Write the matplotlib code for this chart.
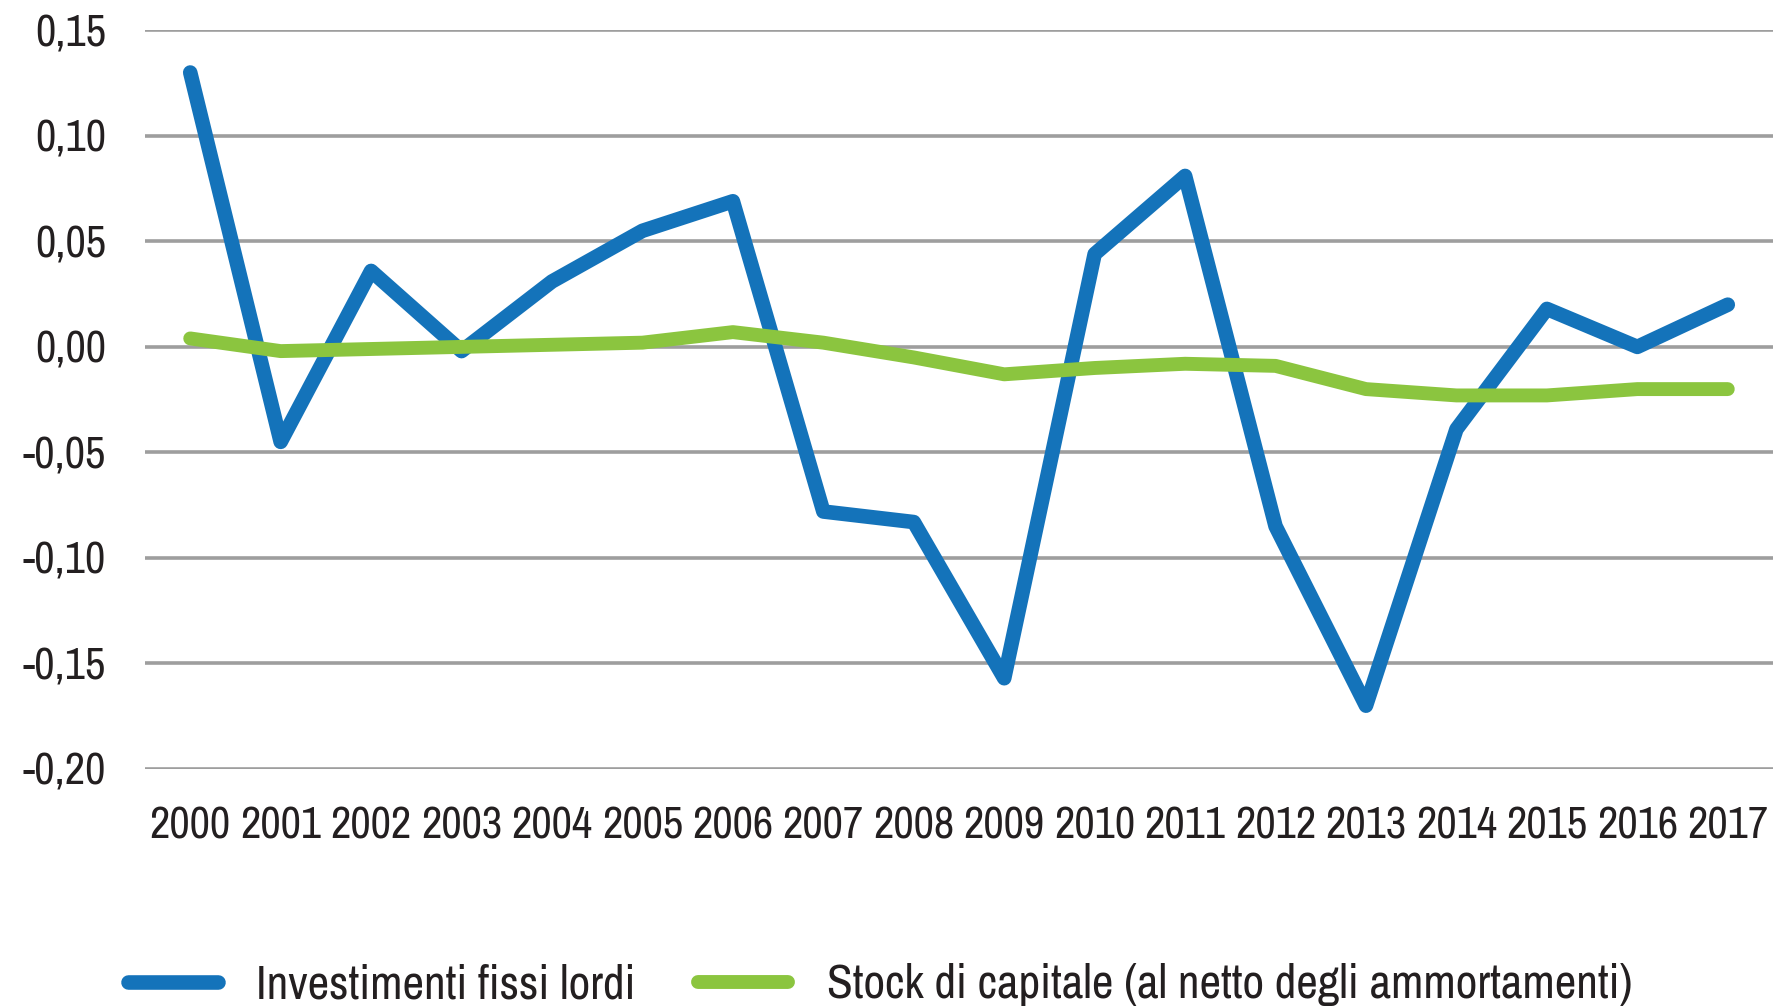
import matplotlib
matplotlib.use("Agg")
import matplotlib.pyplot as plt
from matplotlib import font_manager
from matplotlib.ticker import FuncFormatter, FixedLocator

years = ["2000", "2001", "2002", "2003", "2004", "2005", "2006", "2007", "2008",
         "2009", "2010", "2011", "2012", "2013", "2014", "2015", "2016", "2017"]
investimenti = [0.130, -0.045, 0.036, -0.002, 0.031, 0.055, 0.069, -0.078, -0.083,
                -0.157, 0.044, 0.081, -0.085, -0.170, -0.039, 0.018, 0.000, 0.020]
stock = [0.004, -0.002, -0.001, 0.000, 0.001, 0.002, 0.007, 0.002, -0.005,
         -0.013, -0.010, -0.008, -0.009, -0.020, -0.023, -0.023, -0.020, -0.020]
yticks = [0.15, 0.10, 0.05, 0.00, -0.05, -0.10, -0.15, -0.20]
labels = ["Investimenti fissi lordi", "Stock di capitale (al netto degli ammortamenti)"]

names = sorted({f.name for f in font_manager.fontManager.ttflist})
narrow = [n for n in names if ("Condensed" in n or "Narrow" in n)]
if narrow:
    FONT = narrow[0]
    TICK_SIZE = 32
    LEG_SIZE = 34
else:
    FONT = "Roboto"
    TICK_SIZE = 25
    LEG_SIZE = 27
plt.rcParams["font.family"] = [FONT, "DejaVu Sans"]

fig = plt.figure(figsize=(17.79, 10.07), dpi=100)
ax = fig.add_axes([145 / 1779, 1 - 769 / 1007, (1773 - 145) / 1779, (769 - 30.3) / 1007])

x = list(range(len(years)))
blue = "#1473BA"
green = "#8BC53F"
ax.plot(x, investimenti, color=blue, lw=10.5, solid_capstyle="round",
        solid_joinstyle="round", zorder=3, label=labels[0])
ax.plot(x, stock, color=green, lw=10, solid_capstyle="round",
        solid_joinstyle="round", zorder=4, label=labels[1])

ax.set_xlim(-0.5, len(years) - 0.5)
ax.set_ylim(-0.20, 0.15)
ax.yaxis.set_major_locator(FixedLocator(yticks))
ax.yaxis.set_major_formatter(FuncFormatter(lambda v, p: f"{v:.2f}".replace(".", ",")))
ax.set_xticks(x)
ax.set_xticklabels(years)
ax.grid(axis="y", color="#9E9E9E", lw=2.6, zorder=1)
ax.set_axisbelow(True)
for s in ax.spines.values():
    s.set_visible(False)
ax.tick_params(axis="both", length=0, labelsize=TICK_SIZE, colors="#231F20")
ax.tick_params(axis="y", pad=28)
ax.tick_params(axis="x", pad=27)

leg = fig.legend(loc="center left", bbox_to_anchor=(128 / 1779, 0.022), ncol=2,
                 frameon=False, fontsize=LEG_SIZE, handlelength=1.9, handletextpad=0.82,
                 columnspacing=1.32, borderpad=0, borderaxespad=0)
for t in leg.get_texts():
    t.set_color("#231F20")

fig.savefig("out.png", dpi=100, facecolor="white")
